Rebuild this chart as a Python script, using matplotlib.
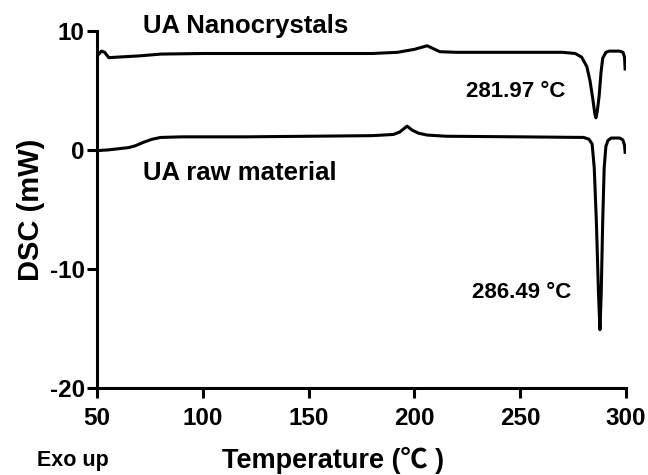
import matplotlib
matplotlib.use("Agg")
import matplotlib.pyplot as plt

plt.rcParams['font.family'] = ['Liberation Sans', 'Noto Sans CJK SC', 'DejaVu Sans']
plt.rcParams['font.weight'] = 'bold'
plt.rcParams['axes.unicode_minus'] = False

# DSC trace of the nanocrystals (temperature, heat flow)
nano_temp = [50.5, 52, 53.5, 55.5, 60, 70, 80, 100, 150, 180, 192, 200, 206, 209, 212,
             220, 250, 270, 276, 279, 281.5, 283, 284.3, 285.3, 285.8, 286.4, 287.3,
             288.2, 289, 290.5, 292, 297, 298.6, 299.3, 299.6]
nano_dsc = [8.0, 8.3, 8.2, 7.75, 7.8, 7.9, 8.05, 8.1, 8.1, 8.1, 8.2, 8.45, 8.75, 8.5, 8.25,
            8.2, 8.2, 8.2, 8.1, 7.8, 7.0, 5.8, 4.3, 3.0, 2.7, 3.2, 4.5,
            6.5, 7.7, 8.2, 8.3, 8.3, 8.2, 7.8, 6.8]

# DSC trace of the raw material
raw_temp = [50.5, 55, 60, 65, 68, 72, 76, 80, 90, 120, 150, 180, 190, 193, 196.5, 199,
            202, 206, 215, 250, 280, 282.5, 284, 285, 286, 287, 287.7, 288.3, 289,
            289.7, 290.5, 291.5, 293, 297, 298.5, 299.3, 299.6]
raw_dsc = [-0.05, 0.0, 0.1, 0.2, 0.35, 0.65, 0.9, 1.05, 1.1, 1.1, 1.15, 1.2, 1.3, 1.5, 2.0, 1.65,
           1.4, 1.25, 1.15, 1.1, 1.05, 0.9, 0.5, -1.5, -6, -12, -15.1, -12, -6,
           -1.5, 0.3, 0.8, 1.0, 1.0, 0.85, 0.4, -0.2]

x_ticks = [50, 100, 150, 200, 250, 300]
y_ticks = [-20, -10, 0, 10]

fig = plt.figure(figsize=(6.48, 4.75), dpi=100)
ax = fig.add_axes([0.150, 0.183, 0.816, 0.752])

ax.plot(nano_temp, nano_dsc, color='black', linewidth=2.2, solid_joinstyle='round')
ax.plot(raw_temp, raw_dsc, color='black', linewidth=2.2, solid_joinstyle='round')

ax.set_xlim(50, 300)
ax.set_ylim(-20, 10)
ax.set_xticks(x_ticks)
ax.set_yticks(y_ticks)

for side in ['top', 'right']:
    ax.spines[side].set_visible(False)
for side in ['left', 'bottom']:
    ax.spines[side].set_linewidth(2.2)

ax.tick_params(axis='both', direction='out', length=7.5, width=2.2, labelsize=17.5)
ax.tick_params(axis='x', pad=6)
ax.tick_params(axis='y', pad=1.5)
for lab in ax.get_xticklabels() + ax.get_yticklabels():
    lab.set_fontweight('bold')

ax.set_ylabel('DSC (mW)', fontsize=21, fontweight='bold', labelpad=3)

ax.text(71.7, 9.83, 'UA Nanocrystals', fontsize=18.5, fontweight='bold', va='baseline', clip_on=False)
ax.text(71.7, -2.52, 'UA raw material', fontsize=18.5, fontweight='bold', va='baseline')
ax.text(224.4, 4.45, '281.97 °C', fontsize=16, fontweight='bold', va='baseline')
ax.text(227.2, -12.4, '286.49 °C', fontsize=16, fontweight='bold', va='baseline')

fig.text(0.057, 0.019, 'Exo up', fontsize=15.5, fontweight='bold', va='baseline')
fig.text(0.343, 0.015, 'Temperature (℃ )', fontsize=19.5, fontweight='bold', va='baseline')

fig.savefig('out.png', dpi=100)
